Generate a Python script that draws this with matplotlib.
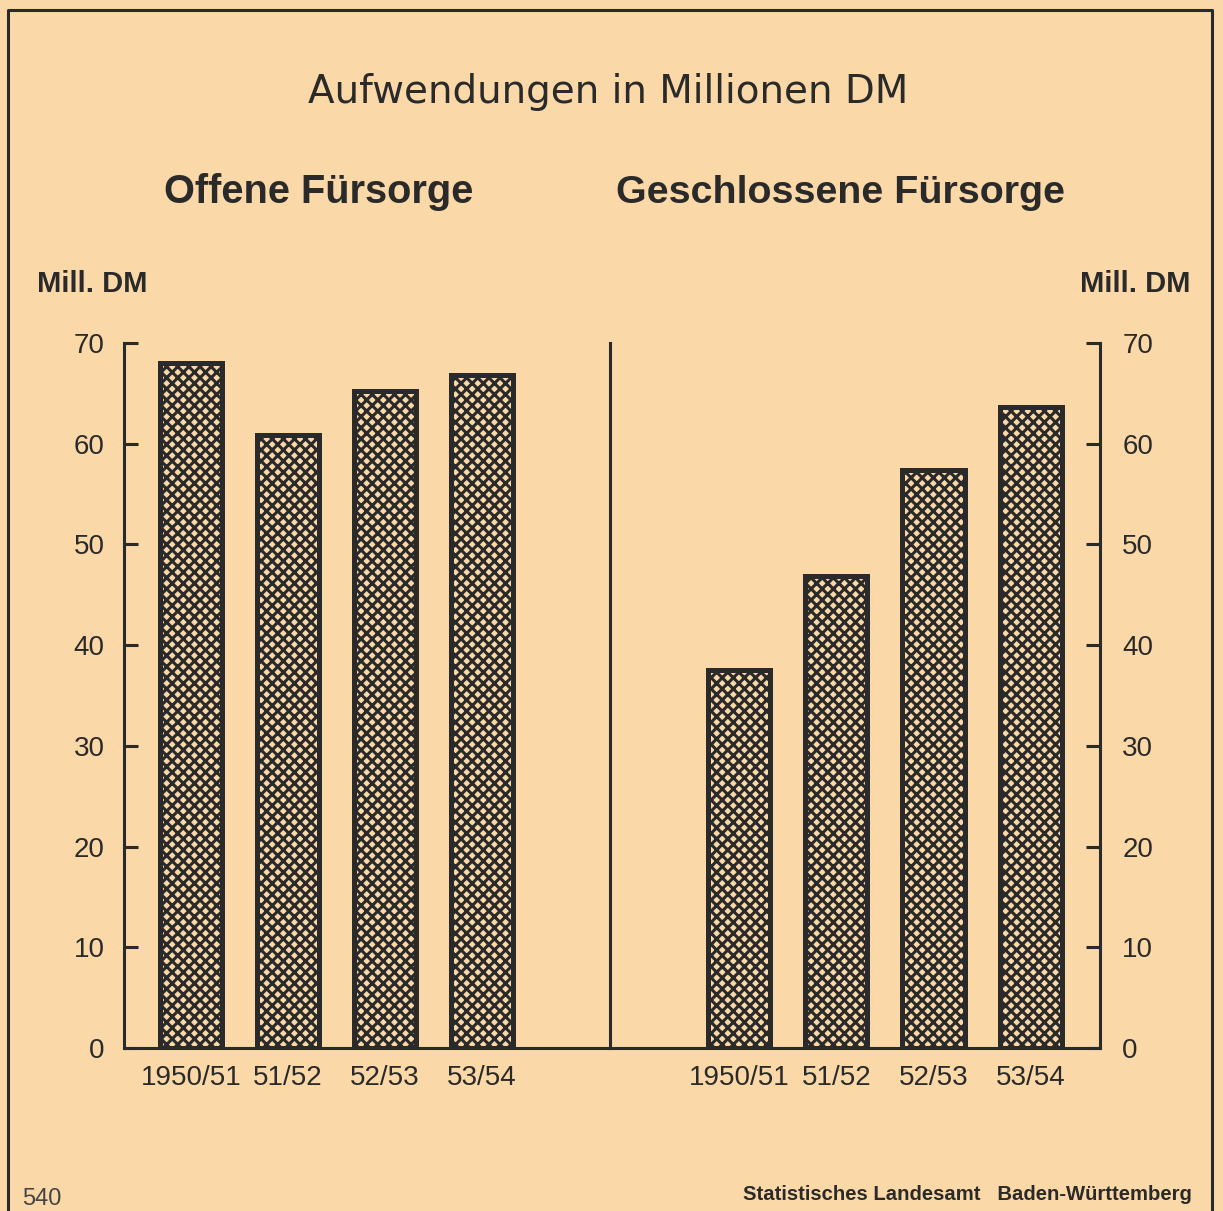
"""
Aufwendungen in Millionen DM - Offene und geschlossene Fürsorge
Nachbau eines alten Diagramms (Statistisches Landesamt Baden-Württemberg)
"""

import matplotlib
matplotlib.use('Agg')  # kein Display
import matplotlib.pyplot as plt
from matplotlib.lines import Line2D

# Daten
jahre = ['1950/51', '51/52', '52/53', '53/54']
offene_fuersorge = [68.0, 60.9, 65.2, 66.8]
geschlossene_fuersorge = [37.5, 46.9, 57.4, 63.6]
y_ticks = [0, 10, 20, 30, 40, 50, 60, 70]

# Farben
BG = '#FAD8A7'
INK = '#2a2a2a'

W, H = 1223, 1211

plt.rcParams['font.family'] = ['Liberation Sans', 'DejaVu Sans']
plt.rcParams['hatch.linewidth'] = 2.2


def fx(px):
    return px / W


def fy(py):
    return 1 - py / H


fig = plt.figure(figsize=(W / 100, H / 100), dpi=100, facecolor=BG)

# Achsen: links offene, rechts geschlossene Fürsorge
ax_l = fig.add_axes([fx(124), fy(1048), 486 / W, 705 / H])
ax_r = fig.add_axes([fx(610), fy(1048), 490 / W, 705 / H])

x = range(len(jahre))
for ax, werte, xlim in [(ax_l, offene_fuersorge, (-0.69, 4.32)),
                        (ax_r, geschlossene_fuersorge, (-1.326, 3.71))]:
    ax.set_facecolor('none')
    ax.bar(x, werte, width=0.64, facecolor=BG, edgecolor=INK,
           hatch='xxx', linewidth=3.6, zorder=3)
    ax.set_xlim(*xlim)
    ax.set_ylim(0, 70)
    ax.set_xticks(list(x))
    ax.set_xticklabels(jahre)
    ax.set_yticks(y_ticks)
    ax.tick_params(axis='x', length=0, pad=12, labelsize=20, labelcolor=INK)
    ax.tick_params(axis='y', direction='in', length=10, width=2.2,
                   color=INK, labelsize=20, labelcolor=INK)
    for s in ax.spines.values():
        s.set_color(INK)
        s.set_linewidth(2.2)
    ax.spines['top'].set_visible(False)

# linke Achse
ax_l.spines['right'].set_visible(False)
ax_l.tick_params(axis='y', pad=14)

# rechte Achse: Skala rechts, linke Spine als Trennlinie
ax_r.yaxis.tick_right()
ax_r.tick_params(axis='y', pad=16, left=False, labelleft=False)

# Texte
fig.text(fx(608), fy(103), 'Aufwendungen in Millionen DM', ha='center',
         va='baseline', fontsize=28, color=INK, family='DejaVu Sans')
fig.text(fx(319), fy(203), 'Offene Fürsorge', ha='center', va='baseline',
         fontsize=28.6, fontweight='bold', color=INK)
fig.text(fx(840), fy(203), 'Geschlossene Fürsorge', ha='center',
         va='baseline', fontsize=28.4, fontweight='bold', color=INK)
fig.text(fx(37), fy(292), 'Mill. DM', ha='left', va='baseline',
         fontsize=21, fontweight='bold', color=INK)
fig.text(fx(1190), fy(292), 'Mill. DM', ha='right', va='baseline',
         fontsize=21, fontweight='bold', color=INK)
fig.text(fx(22), fy(1205), '540', ha='left', va='baseline',
         fontsize=17, color='#444444')
fig.text(fx(1192), fy(1200), 'Statistisches Landesamt   Baden-Württemberg',
         ha='right', va='baseline', fontsize=14.6, fontweight='bold', color=INK)

# Rahmen
fig.add_artist(Line2D([fx(8), fx(8), fx(1212), fx(1212)],
                      [0, fy(10), fy(10), 0], color=INK, linewidth=2.2,
                      transform=fig.transFigure))

fig.savefig('out.png', dpi=100, facecolor=BG)
